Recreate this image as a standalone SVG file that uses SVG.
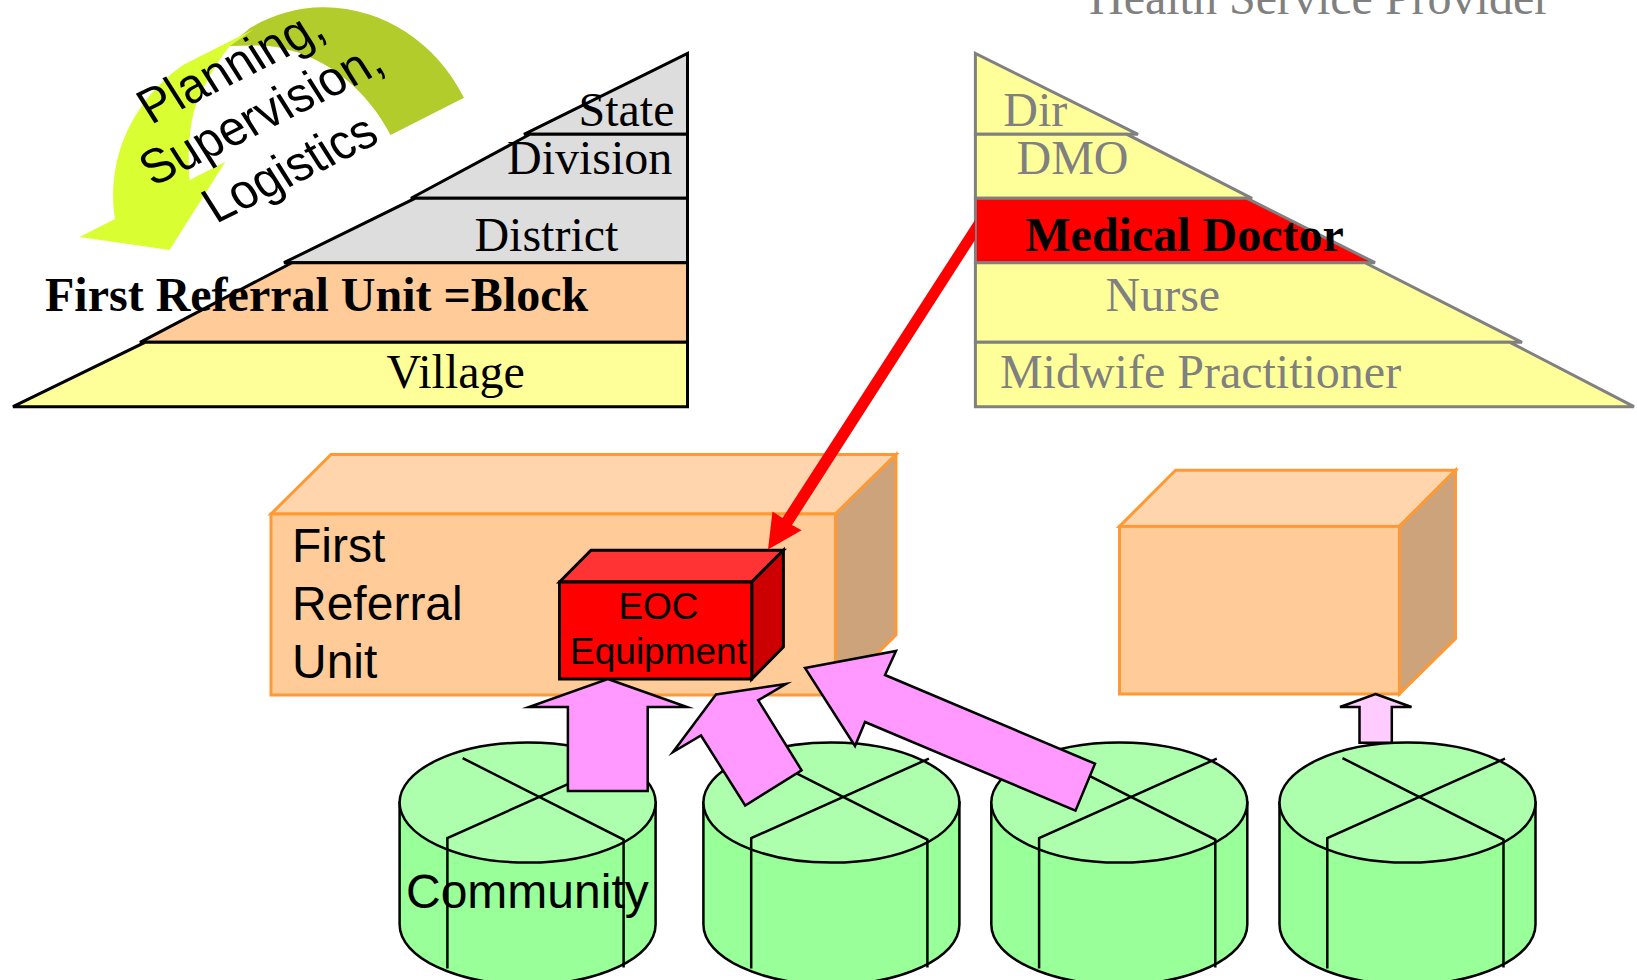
<svg xmlns="http://www.w3.org/2000/svg" width="1637" height="980" viewBox="0 0 1637 980">
<style>
.s{font-family:"Liberation Serif","Times New Roman",serif;font-size:48px}
.g{fill:#808080}
.b{font-weight:bold;fill:#000}
.a{font-family:"Liberation Sans",Arial,sans-serif;fill:#000}
.lk{stroke:#000;stroke-width:3;stroke-linejoin:miter}
.lg{stroke:#808080;stroke-width:3}
.o{stroke:#FF9933;stroke-width:3;stroke-linejoin:miter}
.c{stroke:#000;stroke-width:2.5;fill:none}
.cs{fill:#99FF99;stroke:#000;stroke-width:2.5}
.ct{fill:#ADFFAD;stroke:#000;stroke-width:2.5}
.p{fill:#FF99FF;stroke:#000;stroke-width:2.5;stroke-miterlimit:10}
</style>
<defs>
<g id="cyl">
<path class="cs" d="M0 0V122C0 155 57 182 128 182S256 155 256 122V0Z"/>
<ellipse class="ct" cx="128" cy="0" rx="128" ry="60"/>
<path class="c" d="M63 -44.500L224 37V165M47.800 166V35.500L225.500 -44"/>
</g>
</defs>
<rect width="1637" height="980" fill="#fff"/>
<g id="service-provider-title"><text class="s g" x="1089" y="14.300">Health Service Provider</text></g>

<g id="management-arrow">
<path fill="#B2CC2B" d="M464 97.700C436 43 385 8 324 7.300C298 7 272 15 250 28L229 46C246 46 264 44 281 48C330 58 368 92 390.600 135Z"/>
<path fill="#D9FF33" d="M79.500 237L169.600 250L225.400 161.700L189.700 180C187 150 190 115 200 95C208 78 218 60 230 46L254 29L183 65C140 95 105 150 115 219Z"/>
</g>

<g id="admin-pyramid">
<path class="lk" fill="#DDDDDD" d="M687.500 53.500V134.300H524Z"/>
<path class="lk" fill="#DDDDDD" d="M530 134.300H687.500V198.300H411Z"/>
<path class="lk" fill="#DDDDDD" d="M415 198.300H687.500V262.700H284Z"/>
<path class="lk" fill="#FFCC99" d="M292 262.700H687.500V342.300H140Z"/>
<path class="lk" fill="#FFFF99" d="M145 342.300H687.500V406.700H13Z"/>
<text class="s" x="578.500" y="126">State</text>
<text class="s" x="507" y="174">Division</text>
<text class="s" x="474.400" y="251">District</text>
<text class="s b" x="45" y="311">First Referral Unit =Block</text>
<text class="s" x="386.500" y="387.500">Village</text>
</g>

<g id="provider-pyramid">
<path class="lg" fill="#FFFF99" d="M975.400 53.500V134.300H1138Z"/>
<path class="lg" fill="#FFFF99" d="M975.400 134.300H1127L1252 198.300H975.400Z"/>
<path class="lg" fill="#FF0000" d="M975.400 198.300H1247L1375 262.700H975.400Z"/>
<path class="lg" fill="#FFFF99" d="M975.400 262.700H1365L1522 342.300H975.400Z"/>
<path class="lg" fill="#FFFF99" d="M975.400 342.300H1510L1634 406.700H975.400Z"/>
<text class="s g" x="1003.300" y="126">Dir</text>
<text class="s g" x="1016.500" y="174">DMO</text>
<text class="s b" x="1025.300" y="251">Medical Doctor</text>
<text class="s g" x="1105.500" y="311">Nurse</text>
<text class="s g" x="999.900" y="387.500">Midwife Practitioner</text>
</g>

<g id="first-referral-box">
<path class="o" fill="#FFD5AD" d="M271 514L331 454.500H896L835.500 514Z"/>
<path class="o" fill="#CCA37A" d="M835.500 514L896 454.500V635L835.500 695Z"/>
<rect class="o" fill="#FFCC99" x="271" y="514" width="564.500" height="181"/>
<g class="a" font-size="48"><text x="292" y="562">First</text><text x="292" y="620">Referral</text><text x="292" y="678">Unit</text></g>
</g>

<g id="second-box">
<path class="o" fill="#FFD5AD" d="M1119.500 526.400L1175.600 470.300H1455.500L1399.400 526.400Z"/>
<path class="o" fill="#CCA37A" d="M1399.400 526.400L1455.500 470.300V638.600L1399.400 694Z"/>
<rect class="o" fill="#FFCC99" x="1119.500" y="526.400" width="279.900" height="167.600"/>
</g>

<g id="eoc-equipment">
<path class="lk" fill="#FF3333" d="M559.500 582L591 550.300H783.400L751.700 582Z"/>
<path class="lk" fill="#CC0000" d="M751.700 582L783.400 550.300V647L751.700 679Z"/>
<rect class="lk" fill="#FF0000" x="559.500" y="582" width="192.200" height="97"/>
<g class="a" font-size="37" text-anchor="middle"><text x="658.500" y="619">EOC</text><text x="658.500" y="663.500">Equipment</text></g>
</g>

<g id="community-1"><use href="#cyl" x="399.600" y="802.600"/></g>
<g id="community-2"><use href="#cyl" x="703.400" y="802.600"/></g>
<g id="community-3"><use href="#cyl" x="991.300" y="802.600"/></g>
<g id="community-4"><use href="#cyl" x="1279.500" y="802.600"/></g>

<g id="connectors">
<path fill="#FF0000" d="M768 549.600L772.500 511.400L782.500 518L975 220V240L792 525L801.600 530.300Z"/>
<path class="p" d="M607.800 679L687 707H647.700V791H567.900V707H529Z"/>
<path class="p" d="M716 694.500L786 684L758.200 700.300L801.600 770.300L745.200 805.500L701 735.500L673 752Z"/>
<path class="p" d="M805 668L896 651L885 675L1095 763.700L1075.500 810.700L865 722L855 746Z"/>
<path d="M1375.500 694L1411.500 707H1391.800V742.800H1359.500V707H1340Z" fill="#FFCCFF" stroke="#000" stroke-width="2.500"/>
</g>

<g id="labels" class="a">
<text x="406" y="908" font-size="48">Community</text>
<g font-size="46">
<text transform="matrix(.925 -.462 .59 .93 151 125)">Planning,</text>
<text transform="matrix(.925 -.462 .59 .93 153 187)">Supervision,</text>
<text transform="matrix(.925 -.462 .59 .93 216 224)">Logistics</text>
</g>
</g>
</svg>
